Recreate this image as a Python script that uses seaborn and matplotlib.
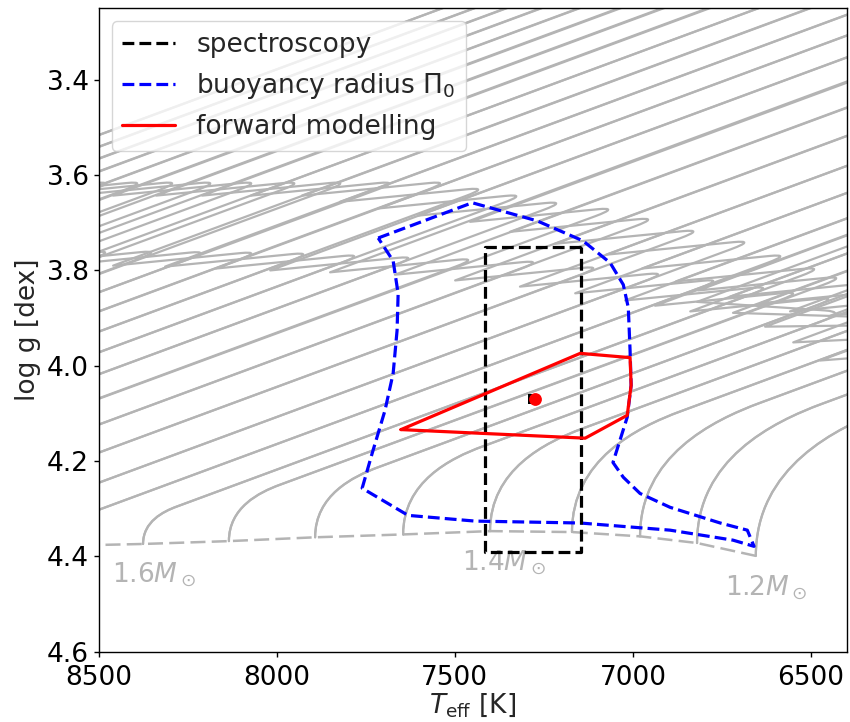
import matplotlib
matplotlib.use("Agg")
import matplotlib.pyplot as plt
import seaborn as sns
from matplotlib.path import Path
from matplotlib.patches import PathPatch
from matplotlib.lines import Line2D

# ---- grid of evolutionary tracks (Kiel diagram), two overshoot settings ----
track_mass = [1.20, 1.25, 1.30, 1.35, 1.40, 1.45, 1.50, 1.55, 1.60, 1.65, 1.70, 1.75, 1.80, 1.85,
              1.90, 1.95, 2.00, 2.05, 2.10, 2.15, 2.20, 2.25, 2.30, 2.35, 2.40, 2.45, 2.50]
zams_teff = [6655, 6820, 6980, 7171, 7401, 7645, 7892, 8134, 8375, 8615, 8850, 9080, 9305, 9525,
             9740, 9950, 10155, 10355, 10550, 10740, 10925, 11105, 11280, 11450, 11615, 11775, 11930]
zams_logg = [4.399, 4.372, 4.358, 4.349, 4.347, 4.354, 4.360, 4.368, 4.374, 4.378, 4.381, 4.384, 4.386,
             4.388, 4.390, 4.391, 4.392, 4.393, 4.394, 4.395, 4.396, 4.397, 4.398, 4.399, 4.400, 4.401, 4.402]
# low overshoot: coolest main-sequence point and hottest point after the hook
tamsA_teff = [5745, 6053, 6129, 6208, 6298, 6399, 6418, 6517, 6601, 6741, 6896, 7078, 7247, 7429,
              7597, 7749, 7892, 8038, 8181, 8319, 8448, 8569, 8681, 8788, 8886, 8979, 9068]
tamsA_logg = [3.941, 3.965, 3.936, 3.914, 3.899, 3.887, 3.855, 3.843, 3.832, 3.817, 3.803, 3.790, 3.778,
              3.773, 3.769, 3.765, 3.761, 3.759, 3.758, 3.757, 3.757, 3.757, 3.757, 3.757, 3.757, 3.758, 3.758]
hookA_teff = [6166, 6474, 6550, 6629, 6719, 6820, 6839, 6938, 7022, 7162, 7317, 7499, 7668, 7850,
              8018, 8170, 8313, 8459, 8602, 8740, 8869, 8990, 9102, 9209, 9307, 9400, 9489]
hookA_logg = [3.972, 3.989, 3.951, 3.918, 3.889, 3.866, 3.886, 3.874, 3.863, 3.848, 3.834, 3.821, 3.809,
              3.804, 3.800, 3.796, 3.792, 3.790, 3.789, 3.788, 3.788, 3.788, 3.788, 3.788, 3.788, 3.789, 3.789]
# high overshoot
tamsB_teff = [5632, 5759, 5913, 6025, 6138, 6222, 6306, 6396, 6458, 6553, 6654, 6797, 6924, 7036,
              7182, 7294, 7401, 7508, 7651, 7788, 7917, 8038, 8153, 8260, 8358, 8448, 8538]
tamsB_logg = [3.910, 3.884, 3.876, 3.864, 3.855, 3.838, 3.824, 3.811, 3.792, 3.765, 3.736, 3.713, 3.688,
              3.667, 3.654, 3.639, 3.625, 3.612, 3.612, 3.612, 3.612, 3.612, 3.612, 3.612, 3.612, 3.612, 3.612]
hookB_teff = [6053, 6180, 6334, 6446, 6559, 6643, 6727, 6817, 6879, 6974, 7075, 7218, 7345, 7457,
              7603, 7715, 7822, 7929, 8072, 8209, 8338, 8459, 8574, 8681, 8779, 8869, 8959]
hookB_logg = [3.941, 3.915, 3.907, 3.895, 3.886, 3.869, 3.855, 3.842, 3.823, 3.796, 3.767, 3.744, 3.719,
              3.698, 3.685, 3.670, 3.656, 3.643, 3.643, 3.643, 3.643, 3.643, 3.643, 3.643, 3.643, 3.643, 3.643]
track_slope = 2.76e-4   # d(log g)/d(Teff) of the straight parts of the tracks [dex/K]

label_text = [r"$1.6M_\odot$", r"$1.4M_\odot$", r"$1.2M_\odot$"]
label_teff = [8463, 7479, 6741]
label_logg = [4.454, 4.429, 4.481]

# ---- constraints on the star ----
spec_teff, spec_teff_err = 7280, 135
spec_logg, spec_logg_err = 4.07, 0.32

pi0_teff = [7715, 7451, 7269, 7140, 7064, 7027, 7013, 7008, 7005, 7016, 7056, 7027, 6980, 6896,
            6755, 6679, 6660, 6719, 6896, 7148, 7443, 7631, 7760, 7732, 7696, 7673, 7662, 7659,
            7673, 7715]
pi0_logg = [3.732, 3.658, 3.696, 3.738, 3.784, 3.830, 3.878, 3.968, 4.041, 4.108, 4.203, 4.234,
            4.268, 4.297, 4.330, 4.345, 4.379, 4.366, 4.345, 4.330, 4.326, 4.314, 4.257, 4.184,
            4.094, 4.016, 3.926, 3.849, 3.780, 3.732]

fm_teff = [7651, 7148, 7008, 7005, 7016, 7134, 7651]
fm_logg = [4.134, 3.974, 3.983, 4.041, 4.104, 4.152, 4.134]
best_teff, best_logg = 7275, 4.069

GRAY = "#b4b4b4"
FS = 19

sns.set_theme(style="ticks", rc={
    "axes.edgecolor": "black", "axes.linewidth": 1.0,
    "xtick.color": "black", "ytick.color": "black",
    "xtick.major.size": 3.5, "ytick.major.size": 3.5,
    "xtick.major.width": 1.0, "ytick.major.width": 1.0,
})
plt.rcParams["font.family"] = ["DejaVu Sans"]
plt.rcParams["mathtext.fontset"] = "dejavusans"

fig, ax = plt.subplots(figsize=(8.5, 7.22), dpi=100)
fig.subplots_adjust(left=0.1159, right=0.9961, top=0.9885, bottom=0.0974)


def track_path(T0, g0, T1, g1, T2, g2, Tref, gref):
    """ZAMS bend, straight main sequence up to (T1, g1), hook back to (T2, g2),
    then the subgiant branch. (Tref, gref) fixes the straight main-sequence line."""
    k = track_slope
    knee = gref + k * (T0 - Tref)
    rise = g0 - knee
    verts, codes = [], []
    if rise > 0.01:
        d3 = rise * 1800.0
        T3, g3 = T0 - d3, knee - k * d3
        verts += [(T0, g0), (T0, g0 - 0.6 * (g0 - g3)),
                  (T3 + 0.4 * d3, g3 + k * 0.4 * d3), (T3, g3)]
        codes += [Path.MOVETO, Path.CURVE4, Path.CURVE4, Path.CURVE4]
    else:
        verts += [(T0, knee)]
        codes += [Path.MOVETO]
    dA = 70.0
    Tb, gb = T1 + 0.15 * (T2 - T1), g1 + 0.15 * (g2 - g1)
    Te, ge = T2 - 4000.0, g2 - k * 4000.0
    verts += [(T1 + dA, g1 + k * dA), (T1, g1), (Tb, gb), (T2, g2), (Te, ge)]
    codes += [Path.LINETO, Path.CURVE3, Path.CURVE3, Path.LINETO, Path.LINETO]
    return Path(verts, codes)


for i in range(len(track_mass)):
    T0, g0 = zams_teff[i], zams_logg[i]
    ref = (tamsA_teff[i], tamsA_logg[i])
    for T1, g1, T2, g2 in [(tamsA_teff[i], tamsA_logg[i], hookA_teff[i], hookA_logg[i]),
                           (tamsB_teff[i], tamsB_logg[i], hookB_teff[i], hookB_logg[i])]:
        ax.add_patch(PathPatch(track_path(T0, g0, T1, g1, T2, g2, *ref), fill=False,
                               edgecolor=GRAY, lw=1.6, zorder=1,
                               joinstyle="round", capstyle="round"))

# zero-age main sequence
sns.lineplot(x=zams_teff, y=zams_logg, sort=False, estimator=None, ax=ax, color=GRAY,
             lw=1.8, linestyle=(0, (6, 2.5)), zorder=2)

for txt, T, g in zip(label_text, label_teff, label_logg):
    ax.text(T, g, txt, color=GRAY, fontsize=FS, ha="left", va="baseline")

# spectroscopic box
box_teff = [spec_teff - spec_teff_err, spec_teff + spec_teff_err, spec_teff + spec_teff_err,
            spec_teff - spec_teff_err, spec_teff - spec_teff_err]
box_logg = [spec_logg - spec_logg_err, spec_logg - spec_logg_err, spec_logg + spec_logg_err,
            spec_logg + spec_logg_err, spec_logg - spec_logg_err]
sns.lineplot(x=box_teff, y=box_logg, sort=False, estimator=None, ax=ax, color="black",
             lw=2.3, linestyle="--", zorder=4)
sns.lineplot(x=pi0_teff, y=pi0_logg, sort=False, estimator=None, ax=ax, color="blue",
             lw=2.3, linestyle="--", zorder=3)
sns.lineplot(x=fm_teff, y=fm_logg, sort=False, estimator=None, ax=ax, color="red",
             lw=2.3, zorder=5)
sns.scatterplot(x=[spec_teff], y=[spec_logg], marker="s", color="black", s=60,
                linewidth=0, ax=ax, zorder=6)
sns.scatterplot(x=[best_teff], y=[best_logg], marker="o", color="red", s=85,
                linewidth=0, ax=ax, zorder=7)

ax.set_xlim(8500, 6400)
ax.set_ylim(4.6, 3.25)
ax.set_xticks([8500, 8000, 7500, 7000, 6500])
ax.set_yticks([3.4, 3.6, 3.8, 4.0, 4.2, 4.4, 4.6])
ax.set_yticklabels(["3.4", "3.6", "3.8", "4.0", "4.2", "4.4", "4.6"])
ax.tick_params(labelsize=FS)
ax.tick_params(axis="x", pad=6)
ax.set_xlabel(r"$T_{\rm eff}$ [K]", fontsize=FS, labelpad=0)
ax.set_ylabel("log g [dex]", fontsize=FS)

handles = [Line2D([], [], color="black", lw=2.3, linestyle="--"),
           Line2D([], [], color="blue", lw=2.3, linestyle="--"),
           Line2D([], [], color="red", lw=2.3)]
ax.legend(handles, ["spectroscopy", r"buoyancy radius $\Pi_0$", "forward modelling"],
          loc="upper left", fontsize=FS, framealpha=0.8)

fig.savefig("out.png", dpi=100)
